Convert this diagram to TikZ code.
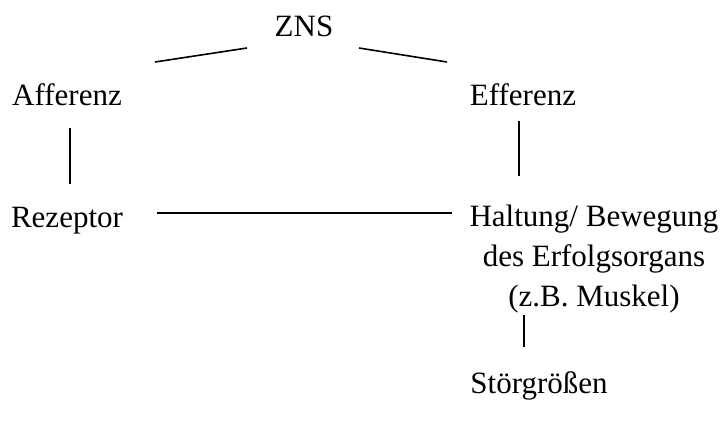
\documentclass[tikz,border=0pt]{standalone}
\usepackage{fontspec}
\setmainfont{Liberation Serif}
\begin{document}
\begin{tikzpicture}[x=1pt,y=-1pt,
  lbl/.style={inner sep=0pt,font=\fontsize{31}{40}\selectfont},
  conn/.style={line width=1.6pt}]
\useasboundingbox (0,0) rectangle (723,423);
\node[lbl,anchor=base] (zns) at (304,36) {ZNS};
\node[lbl,anchor=base] (aff) at (67,105) {Afferenz};
\node[lbl,anchor=base] (eff) at (523,105) {Efferenz};
\node[lbl,anchor=base] (rez) at (67,227) {Rezeptor};
\node[lbl,anchor=center,align=center] (hal) at (594,259) {Haltung/ Bewegung\\des Erfolgsorgans\\(z.B. Muskel)};
\node[lbl,anchor=base] (stoer) at (539,393) {Störgrößen};
% connector end points
\coordinate (znsL) at (247,48);
\coordinate (affT) at (155,62);
\coordinate (znsR) at (359,48);
\coordinate (effT) at (447,62);
\coordinate (affB) at (70,128);
\coordinate (rezT) at (70,184);
\coordinate (effB) at (519,121);
\coordinate (halT) at (519,176);
\coordinate (rezR) at (157,213);
\coordinate (halL) at (452,213);
\coordinate (halB) at (524,315);
\coordinate (stoerT) at (524,347);
\draw[conn] (znsL) -- (affT);
\draw[conn] (znsR) -- (effT);
\draw[conn] (affB) -- (rezT);
\draw[conn,line width=2pt] (effB) -- (halT);
\draw[conn,line width=2.4pt] (rezR) -- (halL);
\draw[conn] (halB) -- (stoerT);
\end{tikzpicture}
\end{document}
